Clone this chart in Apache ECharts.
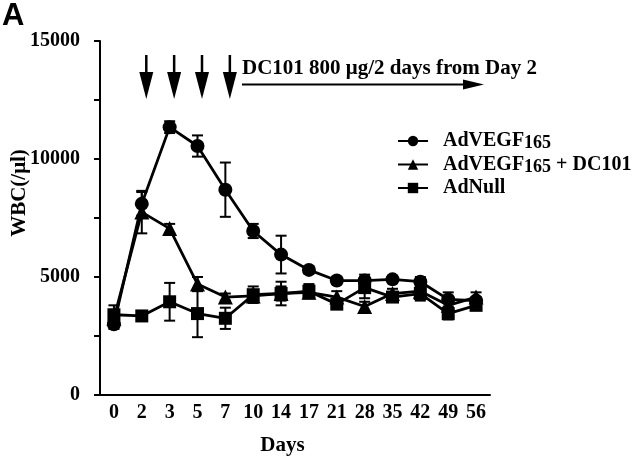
<!DOCTYPE html>
<html><head><meta charset="utf-8">
<script src="https://cdn.jsdelivr.net/npm/echarts@6/dist/echarts.min.js"></script>
<style>html,body{margin:0;padding:0;background:#fff}#c{width:640px;height:461px}</style>
</head><body><div id="c"></div>
<script>
// ---- data ----
const days = ['0','2','3','5','7','10','14','17','21','28','35','42','49','56'];
const vegf      = [3000, 8100, 11350, 10550, 8700, 6950, 5950, 5300, 4850, 4850, 4900, 4800, 4050, 4000];
const vegfErr   = [200, 500, 250, 450, 1150, 300, 800, 150, 150, 250, 150, 200, 300, 150];
const vegfDc    = [3250, 7750, 7050, 4700, 4150, 4200, 4300, 4350, 4150, 3750, 4300, 4400, 3800, 4150];
const vegfDcErr = [200, 900, 200, 300, 150, 200, 300, 250, 250, 200, 200, 250, 250, 200];
const adNull    = [3400, 3350, 3950, 3450, 3250, 4250, 4300, 4400, 3850, 4550, 4150, 4300, 3450, 3800];
const adNullErr = [400, 150, 800, 1000, 450, 350, 500, 300, 200, 450, 200, 300, 250, 200];
const yTickLabels = [0, 5000, 10000, 15000];
const doseDays = ['2','3','5','7'];
const names = ['AdVEGF165', 'AdVEGF165 + DC101', 'AdNull'];
const annotation = 'DC101 800 \u03bcg/2 days from Day 2';

const SERIF = "'Liberation Serif','Times New Roman',serif";
const chart = echarts.init(document.getElementById('c'), null, {renderer:'canvas'});

function errSeries(name, vals, errs) {
  return {
    type: 'custom', name: name + ' err', silent: true, z: 1,
    data: vals.map((v, i) => [i, v, errs[i]]),
    encode: {x: 0, y: 1},
    renderItem: function (params, api) {
      const x = api.value(0), v = api.value(1), e = api.value(2);
      const t = api.coord([x, v + e]);
      const b = api.coord([x, v - e]);
      const hw = 5.5;
      const st = {stroke: '#000', lineWidth: 2};
      return {type: 'group', children: [
        {type: 'line', shape: {x1: t[0], y1: t[1], x2: b[0], y2: b[1]}, style: st},
        {type: 'line', shape: {x1: t[0]-hw, y1: t[1], x2: t[0]+hw, y2: t[1]}, style: st},
        {type: 'line', shape: {x1: b[0]-hw, y1: b[1], x2: b[0]+hw, y2: b[1]}, style: st}
      ]};
    }
  };
}

function lineSeries(name, vals, symbol, size) {
  return {
    type: 'line', name: name, data: vals, symbol: symbol, symbolSize: size, z: 3,
    itemStyle: {color: '#000'}, lineStyle: {color: '#000', width: 2.8},
    animation: false
  };
}

const arrowSeries = {
  type: 'custom', name: 'dose', silent: true, z: 4,
  data: doseDays.map(d => [d]),
  encode: {x: 0},
  renderItem: function (params, api) {
    const x = api.coord([api.value(0), 0])[0] + 4.5;
    const top = params.coordSys.y + 14;
    const headTop = params.coordSys.y + 31;
    const tip = params.coordSys.y + 58;
    return {type: 'group', children: [
      {type: 'line', shape: {x1: x, y1: top, x2: x, y2: headTop + 2}, style: {stroke: '#000', lineWidth: 2.5}},
      {type: 'polygon', shape: {points: [[x-7, headTop], [x+7, headTop], [x, tip]]}, style: {fill: '#000'}}
    ]};
  }
};

const richLegend = {
  f: {fontFamily: SERIF, fontWeight: 'bold', fontSize: 20, lineHeight: 23, verticalAlign: 'middle', padding: [0,0,0,10], color: '#000'},
  m: {fontFamily: SERIF, fontWeight: 'bold', fontSize: 20, lineHeight: 23, verticalAlign: 'middle', color: '#000'},
  s: {fontFamily: SERIF, fontWeight: 'bold', fontSize: 18, lineHeight: 10, verticalAlign: 'bottom', color: '#000'}
};

chart.setOption({
  animation: false,
  backgroundColor: '#fff',
  grid: {left: 100, right: 150, top: 41, bottom: 63},
  legend: {
    orient: 'vertical', left: 397, top: 131, padding: 0, itemGap: 2,
    itemWidth: 30, itemHeight: 13,
    data: names,
    formatter: function (n) {
      if (n === 'AdVEGF165') return '{f|AdVEGF}{s|165}';
      if (n === 'AdVEGF165 + DC101') return '{f|AdVEGF}{s|165}{m| + DC101}';
      return '{f|' + n + '}';
    },
    textStyle: {rich: richLegend},
    selectedMode: false
  },
  xAxis: {
    type: 'category', data: days, boundaryGap: true,
    axisLine: {lineStyle: {color: '#000', width: 2}},
    axisTick: {alignWithLabel: true, length: 5, lineStyle: {color: '#000', width: 2}},
    axisLabel: {color: '#000', fontFamily: SERIF, fontWeight: 'bold', fontSize: 20, margin: 8},
    name: 'Days', nameLocation: 'middle', nameGap: 40,
    nameTextStyle: {color: '#000', fontFamily: SERIF, fontWeight: 'bold', fontSize: 21, padding: [0, 25, 0, 0]}
  },
  yAxis: {
    type: 'value', min: 0, max: 15000, interval: 2500,
    splitLine: {show: false},
    axisLine: {show: true, lineStyle: {color: '#000', width: 2}},
    axisTick: {show: true, length: 6, lineStyle: {color: '#000', width: 2}},
    axisLabel: {color: '#000', fontFamily: SERIF, fontWeight: 'bold', fontSize: 20, margin: 20,
      formatter: v => (yTickLabels.indexOf(v) >= 0 ? String(v) : '')}
  },
  graphic: [
    {type: 'text', left: 2, top: 1, style: {text: 'A', font: "bold 31px 'Liberation Sans', Arial, sans-serif", fill: '#000'}},
    {type: 'text', x: 20, y: 193, rotation: Math.PI / 2,
      style: {text: 'WBC(/\u03bcl)', font: "bold 21px " + SERIF, fill: '#000', textAlign: 'center', textVerticalAlign: 'middle'}},
    {type: 'text', x: 242, y: 69, style: {text: annotation, font: "bold 21px " + SERIF, fill: '#000', textVerticalAlign: 'middle'}},
    {type: 'line', shape: {x1: 242, y1: 84.5, x2: 466, y2: 84.5}, style: {stroke: '#000', lineWidth: 2}},
    {type: 'polygon', shape: {points: [[463, 79.5], [484, 84.5], [463, 89.5]]}, style: {fill: '#000'}}
  ],
  series: [
    errSeries(names[0], vegf, vegfErr),
    errSeries(names[1], vegfDc, vegfDcErr),
    errSeries(names[2], adNull, adNullErr),
    lineSeries(names[0], vegf, 'circle', 14),
    lineSeries(names[1], vegfDc, 'triangle', 15),
    lineSeries(names[2], adNull, 'rect', 13),
    arrowSeries
  ]
});
</script></body></html>
